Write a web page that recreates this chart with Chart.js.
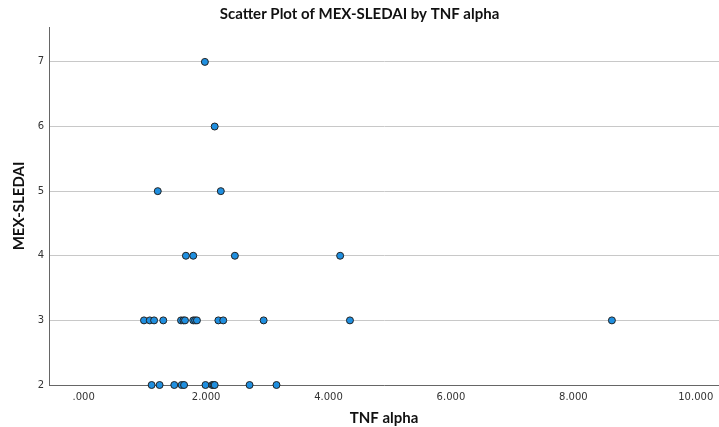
<!DOCTYPE html>
<html>
<head>
<meta charset="utf-8">
<script src="https://cdn.jsdelivr.net/npm/chart.js@4"></script>
<style>
  body { margin: 0; background: #fff; }
  #wrap { width: 719px; height: 427px; }
</style>
</head>
<body>
<div id="wrap"><canvas id="chart" width="719" height="427"></canvas></div>
<script>
// TNF alpha values, grouped by MEX-SLEDAI score
let tnfAlpha = [
  1.98,
  2.14,
  1.21, 2.24,
  1.67, 1.79, 2.47, 4.19,
  0.985, 1.08, 1.15, 1.30, 1.59, 1.63, 1.655, 1.79, 1.82, 1.85, 2.20, 2.28, 2.94, 4.35, 8.63,
  1.11, 1.24, 1.48, 1.60, 1.64, 1.99, 2.10, 2.12, 2.14, 2.71, 3.15
];
let mexSledai = [
  7,
  6,
  5, 5,
  4, 4, 4, 4,
  3, 3, 3, 3, 3, 3, 3, 3, 3, 3, 3, 3, 3, 3, 3,
  2, 2, 2, 2, 2, 2, 2, 2, 2, 2, 2
];
let xTicks = [0, 2, 4, 6, 8, 10];
let yTicks = [2, 3, 4, 5, 6, 7];

let points = [];
tnfAlpha.forEach((x, i) => {
  points.push({ x: x, y: mexSledai[i] });
});

const ctx = document.getElementById('chart').getContext('2d');
const fam = "'DejaVu Sans', sans-serif";
const famBold = "Lato, sans-serif";

const myChart = new Chart(ctx, {
  type: 'scatter',
  data: {
    datasets: [{
      label: 'MEX-SLEDAI',
      data: points,
      backgroundColor: '#1f8fe0',
      borderColor: '#222',
      borderWidth: 1,
      pointRadius: 3.5,
      pointHoverRadius: 3.5,
      clip: false
    }]
  },
  options: {
    responsive: false,
    animation: false,
    devicePixelRatio: 1,
    layout: { padding: 0, autoPadding: false },
    plugins: {
      legend: { display: false },
      tooltip: { enabled: false },
      title: {
        display: true,
        text: 'Scatter Plot of MEX-SLEDAI by TNF alpha',
        color: '#111',
        font: { family: famBold, size: 15, weight: 'bold' },
        padding: { top: 5, bottom: 4 }
      }
    },
    scales: {
      x: {
        type: 'linear',
        min: -0.567,
        max: 10.38,
        afterBuildTicks: s => { s.ticks = xTicks.map(v => ({ value: v })); },
        afterFit: s => { s.height = 42; s.paddingLeft = 0; s.paddingRight = 0; },
        grid: { display: false, drawTicks: false },
        border: { display: true, color: '#666', width: 1 },
        ticks: {
          color: '#333',
          font: { family: fam, size: 10 },
          padding: 6,
          maxRotation: 0,
          callback: v => v === 0 ? '.000' : v.toFixed(3)
        },
        title: {
          display: true,
          text: 'TNF alpha',
          color: '#111',
          font: { family: famBold, size: 15, weight: 'bold' },
          padding: { top: 0, bottom: 0 }
        }
      },
      y: {
        type: 'linear',
        min: 2,
        max: 7.54,
        afterBuildTicks: s => { s.ticks = yTicks.map(v => ({ value: v })); },
        afterFit: s => { s.width = 49; },
        grid: { display: true, color: '#c8c8c8', drawTicks: false },
        border: { display: true, color: '#666', width: 1 },
        ticks: {
          color: '#333',
          font: { family: fam, size: 10 },
          padding: 5
        },
        title: {
          display: true,
          text: 'MEX-SLEDAI',
          color: '#111',
          font: { family: famBold, size: 15, weight: 'bold' },
          padding: { top: 10, bottom: 0 }
        }
      }
    }
  }
});
</script>
</body>
</html>
